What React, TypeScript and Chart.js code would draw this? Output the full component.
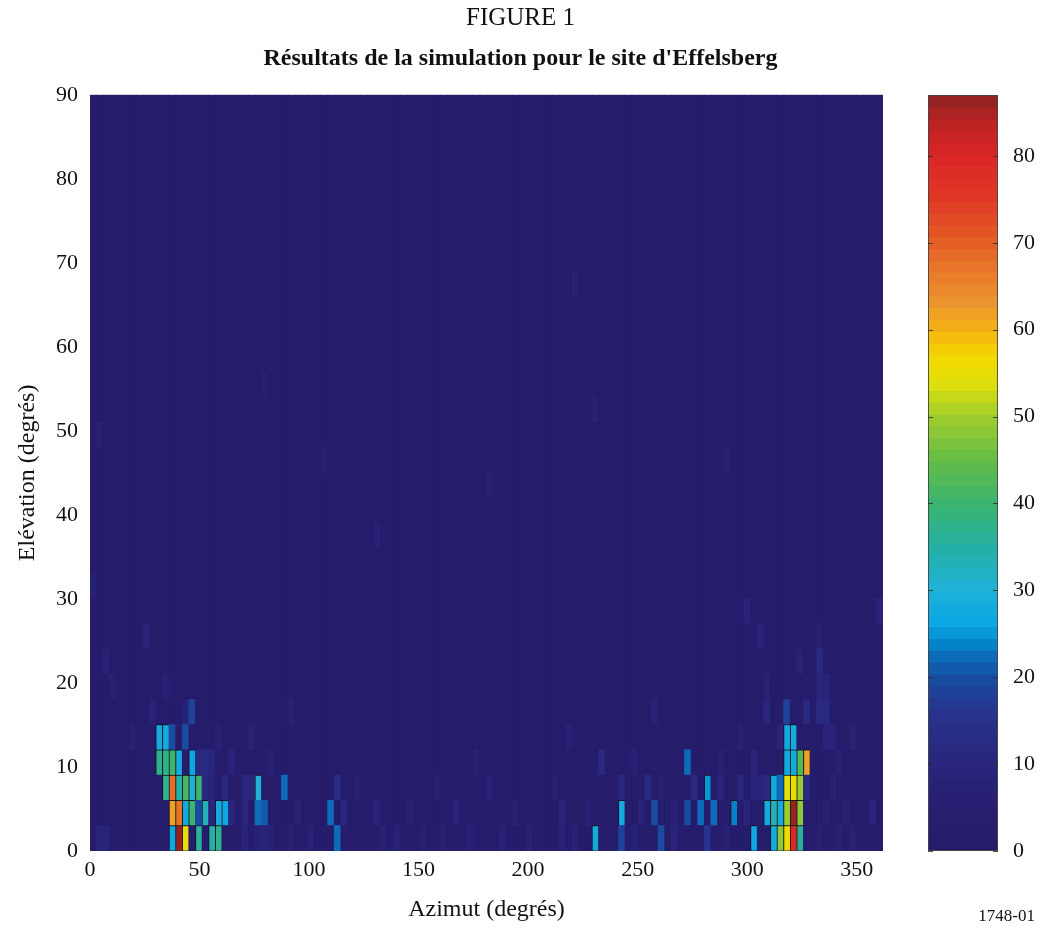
import React, { useEffect, useRef } from 'react';
import { Chart, registerables } from 'chart.js';

Chart.register(...registerables);

// ---------- axes ----------
const AZIMUTH_MAX = 362;
const AZIMUTH_COLUMNS = 120;
const ELEVATION_STEP = 3;
const X_TICKS = [0, 50, 100, 150, 200, 250, 300, 350];
const Y_TICKS = [0, 10, 20, 30, 40, 50, 60, 70, 80, 90];
const COLORBAR_TICKS = [0, 10, 20, 30, 40, 50, 60, 70, 80];
const COLORBAR_MAX = 87;
const COLORBAR_BANDS = 64;
const BACKGROUND_VALUE = 1;

// ---------- data: per elevation row (3° each), [azimuth column (≈3°), value] ----------
const ROW_00 = [[1, 9], [2, 9], [12, 27], [13, 86], [14, 55], [16, 36], [18, 35], [19, 37], [23, 9], [25, 8], [26, 9], [27, 8], [30, 7], [33, 8], [37, 22], [44, 7], [46, 8], [50, 6], [53, 7], [57, 8], [62, 7], [66, 8], [71, 8], [73, 8], [76, 28], [80, 19], [82, 8], [86, 20], [88, 9], [93, 16], [96, 8], [100, 27], [103, 28], [104, 48], [105, 56], [106, 80], [107, 36], [110, 8], [113, 7], [115, 8]];
const ROW_01 = [[12, 62], [13, 67], [14, 28], [15, 40], [16, 20], [17, 33], [18, 10], [19, 28], [20, 27], [21, 10], [23, 10], [25, 22], [26, 21], [31, 8], [36, 22], [38, 10], [43, 9], [48, 7], [55, 8], [64, 7], [71, 9], [75, 8], [80, 28], [83, 9], [85, 20], [88, 8], [90, 20], [92, 22], [94, 22], [97, 24], [99, 9], [102, 28], [103, 33], [104, 28], [105, 50], [106, 86], [107, 48], [111, 8], [114, 8], [118, 10]];
const ROW_02 = [[11, 37], [12, 68], [13, 35], [14, 42], [15, 30], [16, 40], [17, 11], [18, 9], [20, 12], [23, 10], [24, 10], [25, 30], [29, 22], [37, 13], [40, 7], [52, 7], [60, 8], [70, 7], [80, 10], [84, 12], [86, 8], [91, 11], [93, 25], [95, 10], [98, 10], [100, 9], [101, 9], [102, 12], [103, 28], [104, 22], [105, 55], [106, 55], [107, 50], [108, 12], [112, 8]];
const ROW_03 = [[10, 38], [11, 37], [12, 40], [13, 28], [15, 27], [16, 11], [17, 11], [18, 10], [21, 9], [27, 7], [58, 7], [77, 12], [82, 8], [90, 22], [95, 8], [100, 9], [105, 28], [106, 28], [107, 43], [108, 62], [113, 8]];
const ROW_04 = [[6, 8], [10, 28], [11, 28], [12, 20], [14, 20], [19, 7], [24, 7], [72, 7], [98, 8], [104, 10], [105, 28], [106, 28], [111, 9], [112, 9], [115, 7]];
const ROW_05 = [[9, 8], [14, 8], [15, 18], [30, 7], [85, 7], [102, 10], [105, 18], [108, 11], [110, 11], [111, 11]];
const ROW_06 = [[3, 7], [11, 8], [102, 8], [110, 9], [111, 9]];
const ROW_07 = [[2, 8], [107, 8], [110, 12]];
const ROW_08 = [[8, 9], [101, 8], [110, 8]];
const ROW_09 = [[99, 9], [119, 9]];
const ROW_10 = [[0, 6]];
const ROW_12 = [[43, 8]];
const ROW_14 = [[60, 6]];
const ROW_15 = [[35, 6], [96, 6]];
const ROW_16 = [[1, 6]];
const ROW_17 = [[76, 7]];
const ROW_18 = [[26, 5]];
const ROW_22 = [[73, 7]];
const EMPTY: number[][] = [];
const ROWS = [
  ROW_00, ROW_01, ROW_02, ROW_03, ROW_04, ROW_05, ROW_06, ROW_07, ROW_08, ROW_09,
  ROW_10, EMPTY, ROW_12, EMPTY, ROW_14, ROW_15, ROW_16, ROW_17, ROW_18, EMPTY,
  EMPTY, EMPTY, ROW_22, EMPTY, EMPTY, EMPTY, EMPTY, EMPTY, EMPTY, EMPTY,
];

// ---------- colour map ----------
const CMAP_POS = [0, 5, 10, 15, 18, 20, 22, 24, 26, 30, 35, 40, 45, 50, 54, 57, 60, 63, 67, 71, 75, 80, 84, 87];
const CMAP_RGB = [
  [38, 28, 107], [39, 31, 112], [42, 38, 124], [40, 48, 137], [33, 62, 150], [24, 78, 162], [14, 100, 180],
  [4, 135, 205], [10, 165, 228], [30, 178, 218], [36, 176, 165], [58, 180, 112], [100, 188, 70],
  [160, 205, 45], [225, 225, 10], [245, 215, 0], [244, 178, 20], [236, 150, 46], [232, 118, 42],
  [228, 88, 38], [224, 56, 38], [218, 38, 38], [185, 35, 35], [140, 34, 32],
];

function interp(v: number): string {
  if (v <= CMAP_POS[0]) return `rgb(${CMAP_RGB[0].join(',')})`;
  for (let i = 1; i < CMAP_POS.length; i++) {
    if (v <= CMAP_POS[i]) {
      const t = (v - CMAP_POS[i - 1]) / (CMAP_POS[i] - CMAP_POS[i - 1]);
      const a = CMAP_RGB[i - 1];
      const b = CMAP_RGB[i];
      const c = a.map((x, k) => Math.round(x + (b[k] - x) * t));
      return `rgb(${c.join(',')})`;
    }
  }
  return `rgb(${CMAP_RGB[CMAP_RGB.length - 1].join(',')})`;
}

function colorFor(v: number): string {
  const w = COLORBAR_MAX / COLORBAR_BANDS;
  const level = Math.min(COLORBAR_BANDS - 1, Math.floor(v / w));
  return interp((level + 0.5) * w);
}

const FONT = 'Liberation Serif';

const colorbarFrame = {
  id: 'colorbarFrame',
  afterDraw(chart: any) {
    const { ctx, chartArea } = chart;
    const y = chart.scales.y;
    ctx.save();
    ctx.strokeStyle = 'rgba(70,70,70,0.9)';
    ctx.lineWidth = 1;
    ctx.strokeRect(chartArea.left + 0.5, chartArea.top + 0.5, chartArea.right - chartArea.left - 1, chartArea.bottom - chartArea.top - 1);
    ctx.strokeStyle = 'rgba(40,40,40,0.8)';
    COLORBAR_TICKS.forEach((t) => {
      const py = Math.round(y.getPixelForValue(t)) + 0.5;
      ctx.beginPath();
      ctx.moveTo(chartArea.left, py);
      ctx.lineTo(chartArea.left + 5, py);
      ctx.moveTo(chartArea.right - 5, py);
      ctx.lineTo(chartArea.right, py);
      ctx.stroke();
    });
    ctx.restore();
  },
};

export default function App() {
  const mainRef = useRef<HTMLCanvasElement>(null);
  const barRef = useRef<HTMLCanvasElement>(null);

  useEffect(() => {
    const step = AZIMUTH_MAX / AZIMUTH_COLUMNS;
    const grid = ROWS.map((row) => {
      const vals = new Array(AZIMUTH_COLUMNS).fill(BACKGROUND_VALUE);
      row.forEach(([c, v]) => { vals[c] = v; });
      return vals as number[];
    });
    const datasets = grid.map((vals, r) => ({
      data: vals.map((v, c) => ({ x: (c + 0.5) * step, y: [r * ELEVATION_STEP, (r + 1) * ELEVATION_STEP] })),
      backgroundColor: vals.map(colorFor),
      borderColor: vals.map((v) => (v >= 24 ? 'rgba(15,15,15,0.85)' : 'rgba(0,0,0,0)')),
      borderWidth: vals.map((v) => (v >= 24 ? 1 : 0)),
      borderSkipped: false,
      inflateAmount: 0.6,
      grouped: false,
      barPercentage: 1,
      categoryPercentage: 1,
    }));

    const main = new Chart(mainRef.current!, {
      type: 'bar',
      data: { datasets: datasets as any },
      options: {
        animation: false,
        responsive: false,
        events: [],
        layout: { padding: { left: 0, right: 0, top: 0, bottom: 0 } },
        plugins: {
          legend: { display: false },
          tooltip: { enabled: false },
          title: {
            display: true,
            text: 'FIGURE 1',
            color: '#111',
            font: { family: FONT, size: 25, weight: 'normal' },
            padding: { top: 3, bottom: 0 },
          },
          subtitle: {
            display: true,
            text: "Résultats de la simulation pour le site d'Effelsberg",
            color: '#111',
            font: { family: FONT, size: 24, weight: 'bold' },
            padding: { top: 11, bottom: 22 },
          },
        },
        scales: {
          x: {
            type: 'linear',
            min: 0,
            max: AZIMUTH_MAX,
            offset: false,
            grid: { display: false, drawTicks: false },
            border: { display: false },
            afterBuildTicks: (s: any) => { s.ticks = X_TICKS.map((v) => ({ value: v })); },
            afterFit: (s: any) => { s.height = 81; },
            ticks: { color: '#111', padding: 6, font: { family: FONT, size: 22 }, maxRotation: 0 },
            title: {
              display: true,
              text: 'Azimut (degrés)',
              color: '#111',
              font: { family: FONT, size: 24 },
              padding: { top: 0, bottom: 8 },
            },
          },
          y: {
            type: 'linear',
            position: 'left',
            min: 0,
            max: 90,
            grid: { display: false, drawTicks: false },
            border: { display: false },
            afterBuildTicks: (s: any) => { s.ticks = Y_TICKS.map((v) => ({ value: v })); },
            afterFit: (s: any) => { s.width = 90; },
            ticks: { color: '#111', padding: 12, font: { family: FONT, size: 22 } },
            title: {
              display: true,
              text: 'Elévation (degrés)',
              color: '#111',
              font: { family: FONT, size: 24 },
              padding: { top: 13, bottom: 0 },
            },
          },
          spacer: {
            type: 'linear',
            position: 'right',
            display: true,
            grid: { display: false, drawTicks: false },
            border: { display: false },
            ticks: { display: false },
            afterFit: (s: any) => { s.width = 158; },
          },
        },
      } as any,
    });

    const bandW = COLORBAR_MAX / COLORBAR_BANDS;
    const bands = Array.from({ length: COLORBAR_BANDS }, (_, i) => i);
    const cbar = new Chart(barRef.current!, {
      type: 'bar',
      data: {
        labels: [''],
        datasets: [
          {
            data: bands.map((i) => ({ x: '', y: [i * bandW, (i + 1) * bandW] })) as any,
            backgroundColor: bands.map((i) => interp((i + 0.5) * bandW)),
            borderWidth: 0,
            inflateAmount: 0.6,
            barPercentage: 1,
            categoryPercentage: 1,
            grouped: false,
          } as any,
        ],
      },
      options: {
        animation: false,
        responsive: false,
        events: [],
        layout: { padding: { left: 28, right: 0, top: 95, bottom: 81 } },
        plugins: { legend: { display: false }, tooltip: { enabled: false } },
        scales: {
          x: { display: false, offset: true },
          y: {
            type: 'linear',
            position: 'right',
            min: 0,
            max: COLORBAR_MAX,
            grid: { display: false, drawTicks: false },
            border: { display: false },
            afterBuildTicks: (s: any) => { s.ticks = COLORBAR_TICKS.map((v) => ({ value: v })); },
            afterFit: (s: any) => { s.width = 43; },
            ticks: { color: '#111', padding: 15, font: { family: FONT, size: 22 } },
          },
        },
      } as any,
      plugins: [colorbarFrame],
    });

    return () => {
      main.destroy();
      cbar.destroy();
    };
  }, []);

  return (
    <div style={{ position: 'absolute', left: 0, top: 0, width: 1041, height: 932, background: '#fff' }}>
      <canvas ref={mainRef} width={1041} height={932} style={{ position: 'absolute', left: 0, top: 0 }} />
      <canvas ref={barRef} width={141} height={932} style={{ position: 'absolute', left: 900, top: 0 }} />
      <div
        style={{
          position: 'absolute',
          right: 6,
          top: 906,
          fontFamily: FONT,
          fontSize: 17,
          color: '#111',
        }}
      >
        1748-01
      </div>
    </div>
  );
}
